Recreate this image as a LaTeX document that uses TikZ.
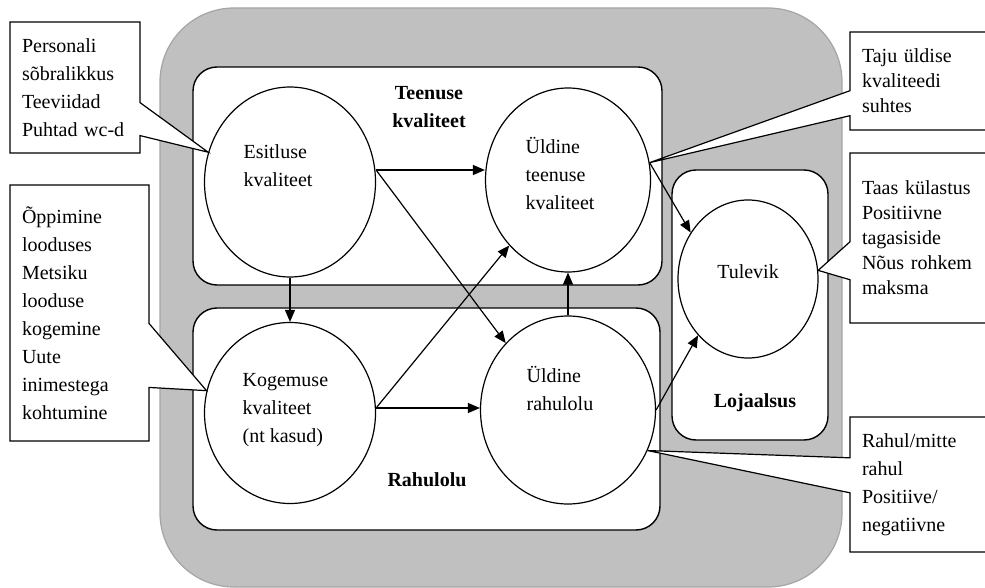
\documentclass[tikz,border=0pt]{standalone}
\usepackage{fontspec}
\setmainfont{Liberation Serif}
\usetikzlibrary{arrows.meta,shapes.geometric,shapes.callouts}
\definecolor{bandgray}{RGB}{192,192,192}
\definecolor{bandedge}{RGB}{165,165,165}

\begin{document}
\begin{tikzpicture}[x=0.5pt,y=-0.5pt,line width=0.6pt,
		arr/.style={-{Triangle[length=6pt,width=5pt]}},
		oval/.style={draw,ellipse,inner sep=0pt,fill=white},
		zone/.style={draw,fill=white,line width=0.7pt,rounded corners=12pt},
		lbl/.style={inner sep=0pt,align=left,font=\fontsize{10pt}{14pt}\selectfont},
		head/.style={inner sep=0pt,align=center,font=\fontsize{10pt}{14pt}\selectfont\bfseries}]
		\tikzstyle{note}=[rectangle callout,draw,fill=white,align=left,inner xsep=6pt,inner ysep=2pt,font=\fontsize{10pt}{14pt}\selectfont]
		
		\useasboundingbox (0,0) rectangle (985,588);
		\clip (0,0) rectangle (985,588);
		
		\draw[fill=bandgray,draw=bandedge,rounded corners=37pt] (160,8) rectangle (842,587);
		\draw[zone] (193,67) rectangle (662,285);
		\draw[zone] (193,308) rectangle (660,530);
		\draw[zone] (672,170) rectangle (828,440);
		
		\node[oval,minimum width=85.5pt,minimum height=95pt]   (esit) at (290,182) {};
		\node[oval,minimum width=82.5pt,minimum height=92pt]   (teen) at (568,180) {};
		\node[oval,minimum width=85.5pt,minimum height=90.5pt] (kog)  at (290,413) {};
		\node[oval,minimum width=87.5pt,minimum height=94pt]   (rah)  at (568,410) {};
		\node[oval,minimum width=70pt,minimum height=79pt]     (tul)  at (748,279) {};
		
		\node[lbl,anchor=west] (esitT) at (243,166) {Esitluse\\kvaliteet};
		\node[lbl,anchor=west] (teenT) at (525,173) {Üldine\\teenuse\\kvaliteet};
		\node[lbl,anchor=west] (kogT)  at (242,410) {Kogemuse\\kvaliteet\\(nt kasud)};
		\node[lbl,anchor=west] (rahT)  at (526,388) {Üldine\\rahulolu};
		\node[lbl]             (tulT)  at (748,272) {Tulevik};
		
		\node[head] (teenH) at (429,107) {Teenuse\\kvaliteet};
		\node[head] (rahH)  at (427,480) {Rahulolu};
		\node[head] (lojH)  at (755,403) {Lojaalsus};
		
		\draw[arr] (esit) -- (kog);
		\draw[arr] ([yshift=6pt]esit.east) -- ([yshift=5pt]teen.west);
		\draw[arr] ([yshift=6pt]esit.east) -- (rah.north west);
		\draw[arr] ([yshift=2.5pt]kog.east) -- (teen.south west);
		\draw[arr] ([yshift=2.5pt]kog.east) -- ([yshift=1pt]rah.west);
		\draw[arr] (rah) -- (teen);
		\draw[arr] (teen.12) -- (tul.141);
		\draw[arr] (rah.east) -- (tul.south west);
		
		\node[note,text width=53pt,minimum height=65.5pt,callout absolute pointer={(esit.160)},callout pointer width=16.5pt] (n1) at (75,87.5)
		{Personali\\sõbralikkus\\Teeviidad\\Puhtad wc-d};
		\node[note,text width=57.5pt,minimum height=128pt,callout absolute pointer={(kog.165)},callout pointer width=32pt] (n2) at (79.5,313)
		{Õppimine\\looduses\\Metsiku\\looduse\\kogemine\\Uute\\inimestega\\kohtumine};
		\node[note,font=\fontsize{10pt}{12.5pt}\selectfont,text width=63pt,minimum height=49pt,callout absolute pointer={(teen.12)},callout pointer width=12.5pt] (n3) at (925,81)
		{Taju üldise\\kvaliteedi\\suhtes};
		\node[note,font=\fontsize{10pt}{12.5pt}\selectfont,text width=63pt,minimum height=85pt,callout absolute pointer={(tul.7)},callout pointer width=19pt] (n4) at (925,238)
		{Taas külastus\\Positiivne\\tagasiside\\Nõus rohkem\\maksma};
		\node[note,text width=63pt,minimum height=67.5pt,callout absolute pointer={(rah.333)},callout pointer width=17.5pt] (n5) at (925,484.5)
		{Rahul/mitte\\rahul\\Positiive/\\negatiivne};
\end{tikzpicture}
\end{document}
